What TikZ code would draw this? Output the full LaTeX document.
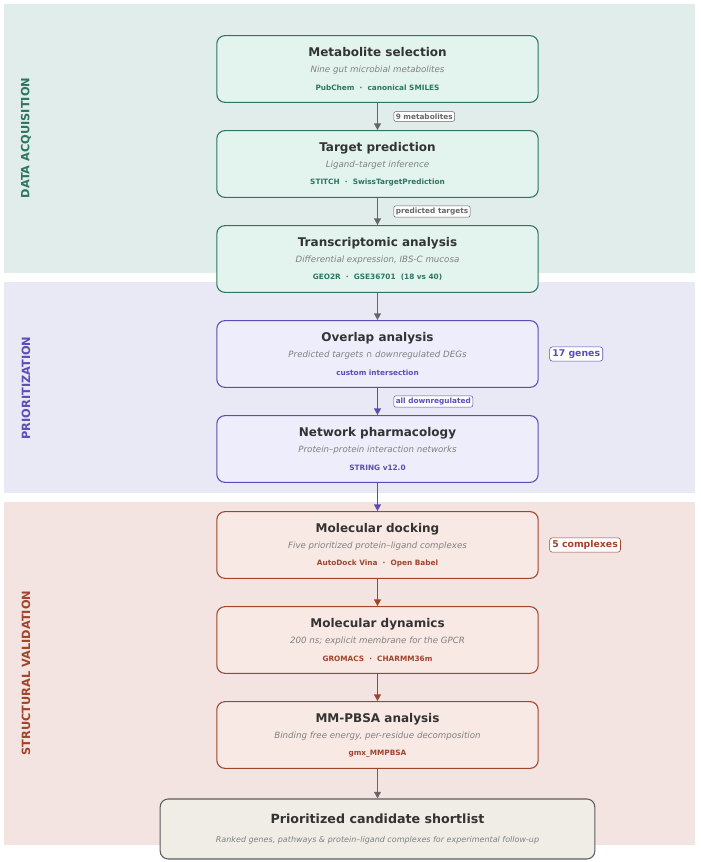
\documentclass[tikz,border=0pt]{standalone}
\usepackage{fontspec}
\setmainfont{DejaVu Sans}
\usetikzlibrary{positioning,arrows.meta}
\definecolor{grnline}{HTML}{2E7560}
\definecolor{grnfill}{HTML}{E3F4EE}
\definecolor{grnband}{HTML}{E0EDEA}
\definecolor{purline}{HTML}{5B4DB8}
\definecolor{purfill}{HTML}{EEEDFB}
\definecolor{purband}{HTML}{E9E8F5}
\definecolor{redline}{HTML}{A0442C}
\definecolor{redfill}{HTML}{F9E9E5}
\definecolor{redband}{HTML}{F3E4E1}
\definecolor{finfill}{HTML}{EFEDE6}
\definecolor{txtgray}{HTML}{333333}
\definecolor{subgray}{HTML}{808080}
\definecolor{arrgray}{HTML}{666666}
\tikzset{
  stagebox/.style={draw=#1line,fill=#1fill,thick,rounded corners=6pt,
    minimum width=241pt,minimum height=50pt,align=center,inner sep=0pt},
  flow/.style={-{Triangle[length=5pt,width=5pt]},line width=1.2pt,draw=#1},
  tag/.style={draw=#1,thin,fill=white,rounded corners=1.5pt,inner sep=1.5pt,
    font=\bfseries\fontsize{5.5}{6}\selectfont,text=#1},
  sidetag/.style={draw=#1,thin,fill=white,rounded corners=2pt,inner sep=2pt,
    font=\bfseries\fontsize{7}{8}\selectfont,text=#1},
  bandlabel/.style={rotate=90,font=\bfseries\fontsize{8.5}{10}\selectfont,text=#1}
}
\newcommand{\stagetext}[4]{{\bfseries\fontsize{9}{11}\selectfont\color{txtgray}#1}\\[0pt]
  {\itshape\fontsize{6.5}{8}\selectfont\color{subgray}#2}\\[1pt]
  {\bfseries\fontsize{5.5}{7}\selectfont\color{#4}#3}}
\begin{document}
\begin{tikzpicture}[x=0.75pt,y=-0.75pt]
  \useasboundingbox (0,0) rectangle (700,862);
  % bands
  \fill[grnband] (4,4) rectangle (695,273);
  \fill[purband] (4,282) rectangle (695,493);
  \fill[redband] (4,502) rectangle (695,845);
  \node[bandlabel=grnline] (lab1) at (26,138) {DATA ACQUISITION};
  \node[bandlabel=purline] (lab2) at (26,388) {PRIORITIZATION};
  \node[bandlabel=redline] (lab3) at (26,673) {STRUCTURAL VALIDATION};
  % stages
  \node[stagebox=grn] (meta) at (377.5,69) {\stagetext{Metabolite selection}{Nine gut microbial metabolites}{PubChem \ · \ canonical SMILES}{grnline}};
  \node[stagebox=grn] (targ) at (377.5,164) {\stagetext{Target prediction}{Ligand–target inference}{STITCH \ · \ SwissTargetPrediction}{grnline}};
  \node[stagebox=grn] (tran) at (377.5,259) {\stagetext{Transcriptomic analysis}{Differential expression, IBS-C mucosa}{GEO2R \ · \ GSE36701 \ (18 vs 40)}{grnline}};
  \node[stagebox=pur] (over) at (377.5,354) {\stagetext{Overlap analysis}{Predicted targets ∩ downregulated DEGs}{custom intersection}{purline}};
  \node[stagebox=pur] (netw) at (377.5,449) {\stagetext{Network pharmacology}{Protein–protein interaction networks}{STRING v12.0}{purline}};
  \node[stagebox=red] (dock) at (377.5,545) {\stagetext{Molecular docking}{Five prioritized protein–ligand complexes}{AutoDock Vina \ · \ Open Babel}{redline}};
  \node[stagebox=red] (dyna) at (377.5,640) {\stagetext{Molecular dynamics}{200 ns; explicit membrane for the GPCR}{GROMACS \ · \ CHARMM36m}{redline}};
  \node[stagebox=red] (mmpb) at (377.5,735) {\stagetext{MM-PBSA analysis}{Binding free energy, per-residue decomposition}{gmx\_MMPBSA}{redline}};
  \node[draw=arrgray!90!black,fill=finfill,thick,rounded corners=6pt,minimum width=326pt,
    minimum height=45pt,align=center] (short) at (377.5,829)
    {{\bfseries\fontsize{9.5}{11}\selectfont\color{txtgray}Prioritized candidate shortlist}\\[2pt]
     {\itshape\fontsize{6}{8}\selectfont\color{subgray}Ranked genes, pathways \& protein–ligand complexes for experimental follow-up}};
  % connectors
  \draw[flow=arrgray] (meta) -- (targ) node[midway,right=12pt,tag=arrgray] {9 metabolites};
  \draw[flow=arrgray] (targ) -- (tran) node[midway,right=12pt,tag=arrgray] {predicted targets};
  \draw[flow=arrgray] (tran) -- (over);
  \draw[flow=purline] (over) -- (netw) node[midway,right=12pt,tag=purline] {all downregulated};
  \draw[flow=purline] (netw) -- (dock);
  \draw[flow=redline] (dock) -- (dyna);
  \draw[flow=redline] (dyna) -- (mmpb);
  \draw[flow=arrgray] (mmpb) -- (short);
  % side tags
  \node[sidetag=purline,right=8pt of over] (genes) {17 genes};
  \node[sidetag=redline,right=8pt of dock] (cplx) {5 complexes};
\end{tikzpicture}
\end{document}
